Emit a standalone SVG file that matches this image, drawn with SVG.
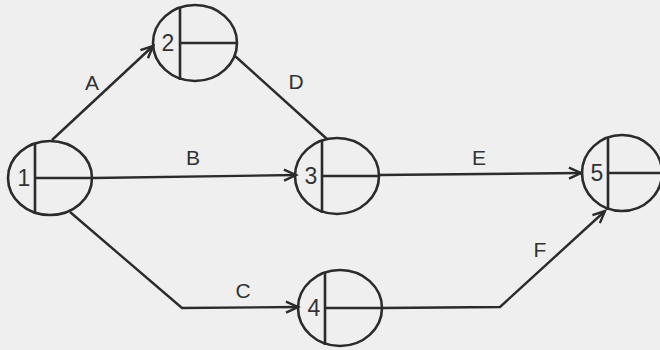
<svg xmlns="http://www.w3.org/2000/svg" width="660" height="350" viewBox="0 0 660 350">
<style>
.n{fill:none;stroke:#2b2b2b;stroke-width:2.6}
.c{fill:none;stroke:#2b2b2b;stroke-width:2.4}
.num{font-family:"Liberation Sans",Arial,sans-serif;font-size:23px;fill:#333;text-anchor:middle}
.lbl{font-family:"Liberation Sans",Arial,sans-serif;font-size:21px;fill:#333;text-anchor:middle}
</style>
<defs>
<marker id="ar" markerWidth="16" markerHeight="14" refX="13" refY="7" orient="auto" markerUnits="userSpaceOnUse">
<path d="M1,1.5 L13,7 L1,12.5" fill="none" stroke="#2b2b2b" stroke-width="2.4"/>
</marker>
</defs>
<rect width="660" height="350" fill="#efefef"/>
<g id="connectors">
<path class="c" d="M52,140 L153,46" marker-end="url(#ar)"/>
<path class="c" d="M235,56 L327,139"/>
<path class="c" d="M93,178 L296,175" marker-end="url(#ar)"/>
<path class="c" d="M379,175 L581,173" marker-end="url(#ar)"/>
<path class="c" d="M70,212 L182,308 L298,307" marker-end="url(#ar)"/>
<path class="c" d="M382,308 L500,307 L605,211" marker-end="url(#ar)"/>
<text class="lbl" x="92" y="90">A</text>
<text class="lbl" x="296" y="89">D</text>
<text class="lbl" x="193" y="165">B</text>
<text class="lbl" x="479" y="165">E</text>
<text class="lbl" x="243" y="298">C</text>
<text class="lbl" x="540" y="257">F</text>
</g>
<g id="node1">
<ellipse class="n" cx="50" cy="178" rx="42" ry="37"/>
<path class="n" d="M35,143 V214 M35,178 H92"/>
<text class="num" x="24" y="186">1</text>
</g>
<g id="node2">
<ellipse class="n" cx="195" cy="43" rx="42" ry="38"/>
<path class="n" d="M180,7 V80 M180,43 H237"/>
<text class="num" x="168" y="51">2</text>
</g>
<g id="node3">
<ellipse class="n" cx="337" cy="176" rx="42" ry="38"/>
<path class="n" d="M322,140 V213 M322,176 H379"/>
<text class="num" x="311" y="184">3</text>
</g>
<g id="node4">
<ellipse class="n" cx="340" cy="308" rx="42" ry="38"/>
<path class="n" d="M325,272 V345 M325,308 H382"/>
<text class="num" x="314" y="316">4</text>
</g>
<g id="node5">
<ellipse class="n" cx="622" cy="173" rx="40" ry="38"/>
<path class="n" d="M608,137 V210 M608,173 H662"/>
<text class="num" x="597" y="181">5</text>
</g>
</svg>
